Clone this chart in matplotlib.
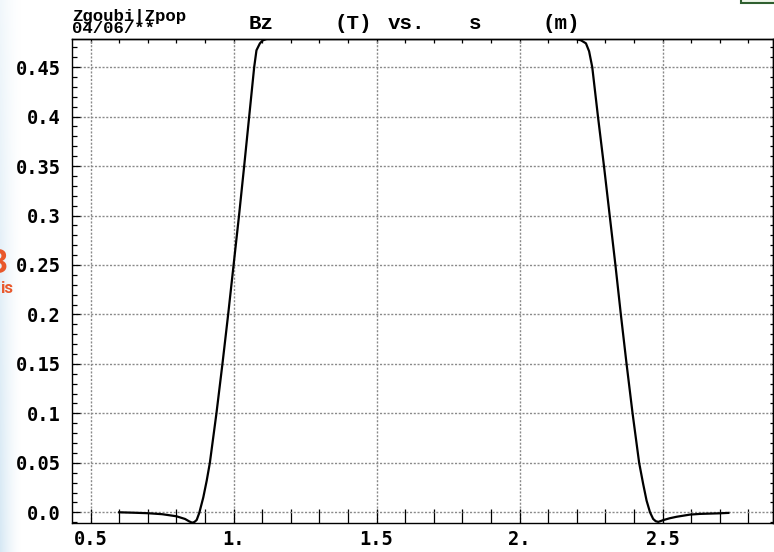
import numpy as np
import matplotlib
matplotlib.use("Agg")
import matplotlib.pyplot as plt
from matplotlib.ticker import MultipleLocator, FuncFormatter
from matplotlib.patches import Rectangle

# Bz (T) vs s (m)
s_m = [0.600, 0.650, 0.700, 0.750, 0.800, 0.830, 0.845, 0.855, 0.863, 0.871,
       0.880, 0.894, 0.906, 0.917, 0.940, 0.961, 0.981, 1.000, 1.019, 1.037,
       1.0545, 1.072, 1.080, 1.092, 1.102, 1.116, 1.200, 1.400, 1.600, 1.800,
       2.000, 2.100, 2.197, 2.215, 2.232, 2.243, 2.254, 2.274, 2.295, 2.315,
       2.335, 2.354, 2.374, 2.395, 2.418, 2.432, 2.444, 2.456, 2.467, 2.476,
       2.485, 2.502, 2.525, 2.549, 2.596, 2.631, 2.700, 2.730]
bz_t = [0.0, -0.0004, -0.0009, -0.0019, -0.0040, -0.0067, -0.0092, -0.0105, -0.0098, -0.0077,
        -0.0006, 0.015, 0.032, 0.050, 0.100, 0.150, 0.200, 0.250, 0.300, 0.350,
        0.400, 0.450, 0.467, 0.474, 0.477, 0.4784, 0.4784, 0.4784, 0.4784, 0.4784,
        0.4784, 0.4784, 0.4784, 0.477, 0.474, 0.466, 0.450, 0.400, 0.350, 0.300,
        0.250, 0.200, 0.150, 0.100, 0.050, 0.0287, 0.0118, 0.0, -0.0067, -0.0090,
        -0.0097, -0.0079, -0.0060, -0.0045, -0.0023, -0.0016, -0.0010, -0.0006]

x_range = (0.435, 2.886)
header = ["Zgoubi|Zpop", "04/06/**"]
title_words = ["Bz", "(T)", "vs.", "s", "(m)"]
title_x_px = [249, 334, 388, 469, 543]

W, H = 774, 552
fig = plt.figure(figsize=(W / 100, H / 100), dpi=100)

# pale blue strip on the left edge (piece of the underlying screen)
bg = fig.add_axes([0, 0, 22 / W, 1], zorder=-5)
gx = np.linspace(1, 0, 40) ** 1.5
gy = np.linspace(0.35, 1, 100)[:, None]
rgba = np.zeros((100, 40, 4))
rgba[..., 0], rgba[..., 1], rgba[..., 2] = 0.84, 0.91, 0.96
rgba[..., 3] = gy * gx[None, :]
bg.imshow(rgba, aspect="auto", extent=(0, 1, 0, 1))
bg.axis("off")
fig.text(-11 / W, 1 - 273 / H, "3", fontsize=24, fontweight="bold",
         color="#e9582b", family="Roboto", va="baseline")
fig.text(0, 1 - 293 / H, "is", fontsize=12, fontweight="bold",
         color="#e9582b", family="Roboto", va="baseline")
fig.add_artist(Rectangle((741 / W, 1 - 3 / H), 45 / W, 10 / H,
                         transform=fig.transFigure, fc="#eef6ea",
                         ec="#2f5f2f", lw=1.5, clip_on=False))

ax = fig.add_axes([72 / W, 1 - 522.7 / H, (773 - 72) / W, (522.7 - 39) / H])
ax.plot(s_m, bz_t, color="black", lw=1.6, zorder=3)
ax.set_xlim(*x_range)
ax.set_ylim(min(bz_t), max(bz_t))

grid_style = dict(color="#8a8a8a", lw=1.0, ls=(0, (1.5, 1.2)))
ax.grid(True, which="major", **grid_style)
ax.set_axisbelow(True)

ax.xaxis.set_major_locator(MultipleLocator(0.5))
ax.xaxis.set_minor_locator(MultipleLocator(0.1))
ax.yaxis.set_major_locator(MultipleLocator(0.05))
ax.yaxis.set_minor_locator(MultipleLocator(0.01))


def xfmt(v, pos):
    t = f"{v:.1f}"
    return t[:-1] if t.endswith("0") else t


def yfmt(v, pos):
    t = f"{v:.2f}".rstrip("0")
    return t + "0" if t.endswith(".") else t


ax.xaxis.set_major_formatter(FuncFormatter(xfmt))
ax.yaxis.set_major_formatter(FuncFormatter(yfmt))

tick_font = dict(family="DejaVu Sans Mono", weight="bold", size=13.5)
ax.tick_params(axis="x", which="both", direction="in", length=10, width=0.9,
               pad=5, top=False)
ax.tick_params(axis="y", which="major", direction="in", length=6, width=0.9,
               pad=8, right=False)
ax.tick_params(axis="y", which="minor", direction="in", length=3.6, width=0.9,
               right=False)
for lab in ax.get_xticklabels() + ax.get_yticklabels():
    lab.set_fontproperties(matplotlib.font_manager.FontProperties(**tick_font))

top = ax.secondary_xaxis("top")
top.xaxis.set_major_locator(MultipleLocator(0.5))
top.xaxis.set_minor_locator(MultipleLocator(0.1))
top.tick_params(which="both", direction="in", length=3, width=0.9,
                labeltop=False)
right = ax.secondary_yaxis("right")
right.yaxis.set_major_locator(MultipleLocator(0.05))
right.yaxis.set_minor_locator(MultipleLocator(0.01))
right.tick_params(which="both", direction="in", length=2.5, width=0.9,
                  labelright=False)

for sp in list(ax.spines.values()) + [top.spines["top"], right.spines["right"]]:
    sp.set_linewidth(1.0)

head_font = dict(family="Liberation Mono", weight="bold")
fig.text(72 / W, 1 - 20.5 / H, header[0], fontsize=12.5, va="baseline", **head_font)
fig.text(72 / W, 1 - 33 / H, header[1], fontsize=12.5, va="baseline", **head_font)
for word, xp in zip(title_words, title_x_px):
    fig.text(xp / W, 1 - 29 / H, word, fontsize=15, va="baseline", **head_font)

fig.savefig("out.png", dpi=100)
